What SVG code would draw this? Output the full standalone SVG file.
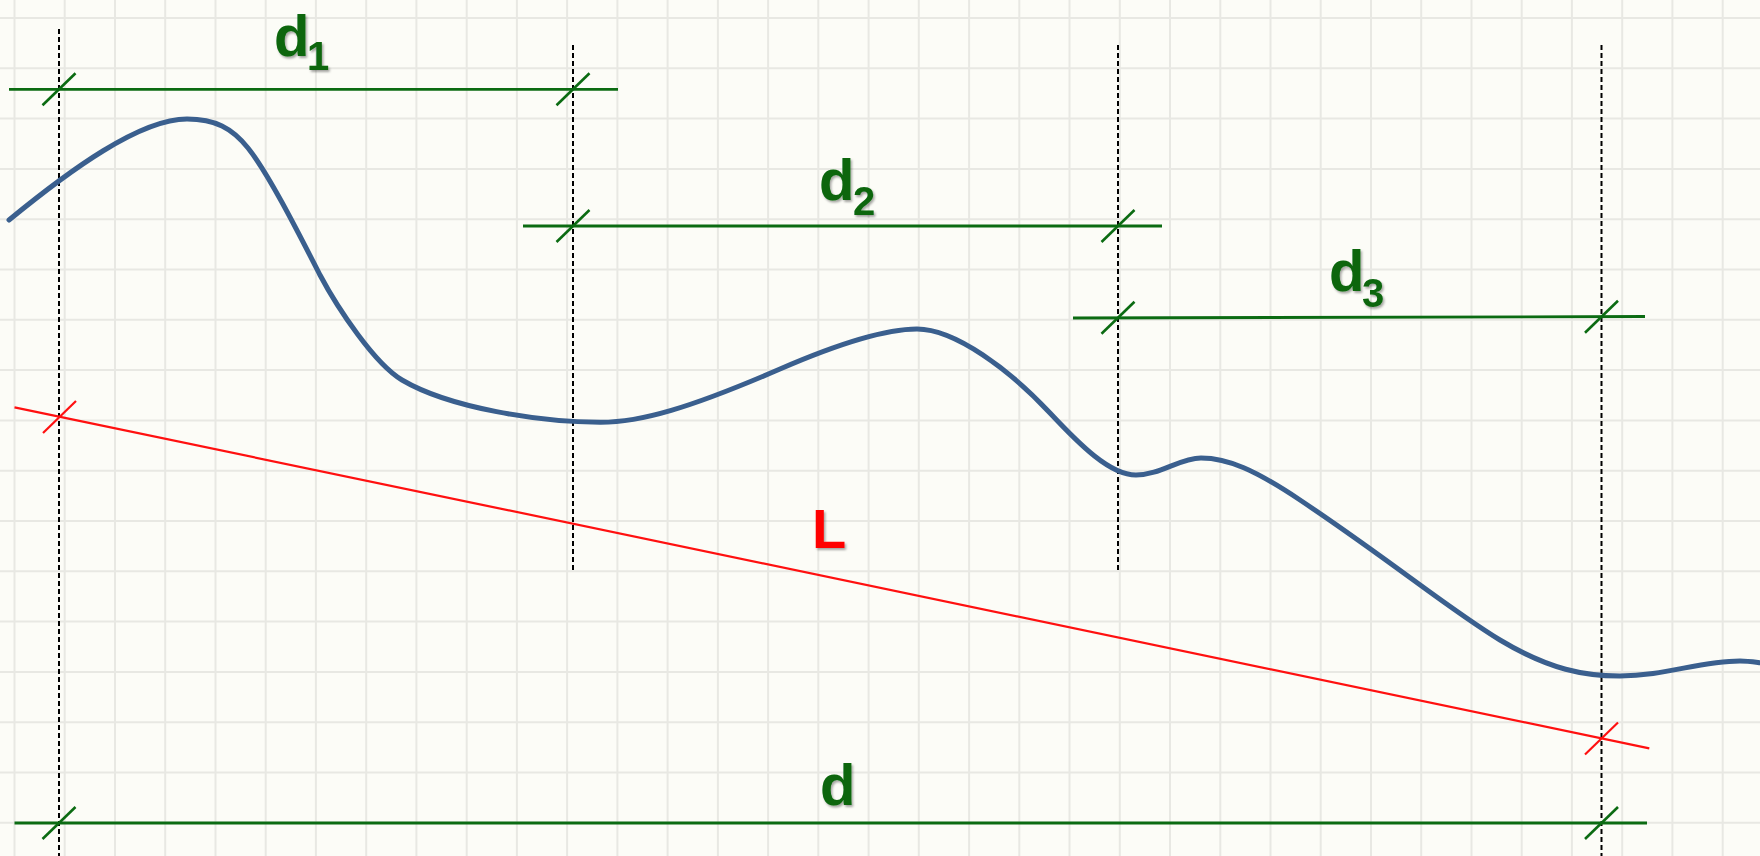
<svg xmlns="http://www.w3.org/2000/svg" width="1760" height="856" viewBox="0 0 1760 856">
  <defs>
    <filter id="shadow" x="-20%" y="-20%" width="150%" height="150%">
      <feDropShadow dx="1.5" dy="2" stdDeviation="1.2" flood-color="#000" flood-opacity="0.35"/>
    </filter>
  </defs>
  <style>
    .grid { stroke: #e8e8e3; stroke-width: 2; fill: none; }
    .guide { stroke: #000; stroke-width: 2; stroke-dasharray: 5 3; fill: none; }
    .dim { stroke: #0b6b12; stroke-width: 2.8; fill: none; }
    .tick { stroke: #0b6b12; stroke-width: 2.6; fill: none; }
    .red { stroke: #ff1010; stroke-width: 2.2; fill: none; }
    .curve { stroke: #3a5f8e; stroke-width: 5; fill: none; stroke-linecap: round; }
    .lbl { font-family: "Liberation Sans", Arial, sans-serif; font-weight: bold; fill: #0a660c; filter: url(#shadow); }
    .big { font-size: 58px; }
    .sub { font-size: 40px; }
    .lblL { font-family: "Liberation Sans", Arial, sans-serif; font-weight: bold; fill: #ff0000; font-size: 56px; filter: url(#shadow); }
  </style>

  <rect x="0" y="0" width="1760" height="856" fill="#fcfcf7"/>
  <g id="grid">
    <path class="grid" d="M14.5 0V856M64.7 0V856M115 0V856M165.2 0V856M215.5 0V856M265.7 0V856M315.9 0V856M366.2 0V856M416.4 0V856M466.7 0V856M516.9 0V856M567.1 0V856M617.4 0V856M667.6 0V856M717.9 0V856M768.1 0V856M818.3 0V856M868.6 0V856M918.8 0V856M969.1 0V856M1019.3 0V856M1069.5 0V856M1119.8 0V856M1170 0V856M1220.3 0V856M1270.5 0V856M1320.7 0V856M1371 0V856M1421.2 0V856M1471.5 0V856M1521.7 0V856M1571.9 0V856M1622.2 0V856M1672.4 0V856M1722.7 0V856"/>
    <path class="grid" d="M0 18H1760M0 68.3H1760M0 118.6H1760M0 168.9H1760M0 219.2H1760M0 269.5H1760M0 319.8H1760M0 370.1H1760M0 420.4H1760M0 470.7H1760M0 521H1760M0 571.3H1760M0 621.6H1760M0 671.9H1760M0 722.2H1760M0 772.5H1760M0 822.8H1760"/>
  </g>

  <g id="guides">
    <line class="guide" x1="59" y1="29" x2="59" y2="856"/>
    <line class="guide" x1="573" y1="45" x2="573" y2="573"/>
    <line class="guide" x1="1118" y1="45" x2="1118" y2="573"/>
    <line class="guide" x1="1601.5" y1="45" x2="1601.5" y2="856"/>
  </g>

  <g id="curve">
    <path class="curve" d="M9 220 C70 170 140 119 187 119 C215 119 232 128 248 148 C268 173 297 230 320 275 C338 309 375 364 402 380 C450 408.3 540 422 600 422.3 C640 422.5 690 408 780 369 C825 349.5 880 329 917 329 C955 329 1010 370 1050 413 C1080 445 1110 475 1136 475 C1160 475 1180 458 1201 458 C1228 458 1255 470 1300 500 C1390 560 1450 610 1500 640 C1550 670 1585 676 1620 676 C1665 676 1700 661 1740 661 C1748 661 1754 662 1762 663"/>
  </g>

  <g id="connectors">
    <g id="dim-d1">
      <line class="dim" x1="9" y1="89.3" x2="618" y2="89.3"/>
      <line class="tick" x1="42.5" y1="105.3" x2="75.5" y2="73.3"/>
      <line class="tick" x1="556.5" y1="105.3" x2="589.5" y2="73.3"/>
    </g>
    <g id="dim-d2">
      <line class="dim" x1="523" y1="226" x2="1162" y2="226"/>
      <line class="tick" x1="556.5" y1="242" x2="589.5" y2="210"/>
      <line class="tick" x1="1101.5" y1="242" x2="1134.5" y2="210"/>
    </g>
    <g id="dim-d3">
      <line class="dim" x1="1073" y1="318" x2="1645" y2="316.5"/>
      <line class="tick" x1="1101.5" y1="333.7" x2="1134.5" y2="301.7"/>
      <line class="tick" x1="1585" y1="332.7" x2="1618" y2="300.7"/>
    </g>
    <g id="dim-d">
      <line class="dim" x1="14.5" y1="823" x2="1647" y2="823"/>
      <line class="tick" x1="42.5" y1="839" x2="75.5" y2="807"/>
      <line class="tick" x1="1585" y1="839" x2="1618" y2="807"/>
    </g>
    <g id="dim-L">
      <line class="red" x1="14.5" y1="407.3" x2="1649.3" y2="748.3"/>
      <line class="red" x1="43" y1="433" x2="76" y2="401"/>
      <line class="red" x1="1585" y1="754.5" x2="1618" y2="722.5"/>
    </g>
  </g>

  <g id="label-d1">
    <text class="lbl big" x="274" y="56">d</text>
    <text class="lbl sub" x="307" y="70">1</text>
  </g>
  <g id="label-d2">
    <text class="lbl big" x="819" y="200">d</text>
    <text class="lbl sub" x="853" y="214.5">2</text>
  </g>
  <g id="label-d3">
    <text class="lbl big" x="1329" y="291">d</text>
    <text class="lbl sub" x="1362" y="307">3</text>
  </g>
  <g id="label-d">
    <text class="lbl big" x="820" y="805">d</text>
  </g>
  <g id="label-L">
    <text class="lblL" x="812" y="548">L</text>
  </g>
</svg>
